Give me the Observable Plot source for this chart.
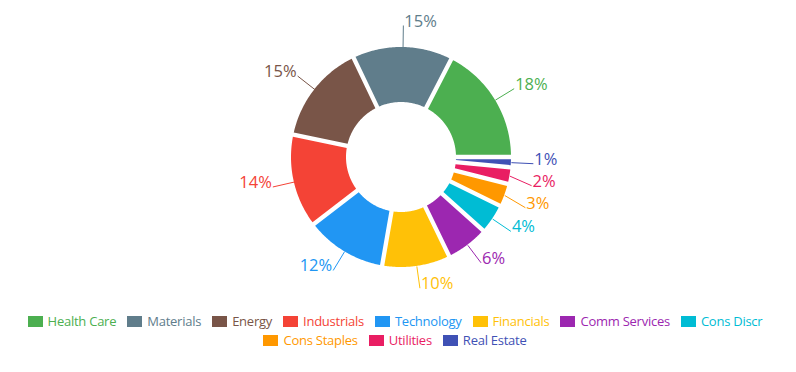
<!DOCTYPE html>
<html>
<head>
<meta charset="utf-8">
<script src="https://cdn.jsdelivr.net/npm/d3@7"></script>
<script src="https://cdn.jsdelivr.net/npm/@observablehq/plot@0.6"></script>
<style>
  html, body { margin: 0; padding: 0; background: #fff; }
  body { width: 796px; height: 372px; overflow: hidden; font-family: "Open Sans", sans-serif; }
  #legend { display: flex; flex-wrap: wrap; justify-content: center; column-gap: 11px; row-gap: 0; padding: 2px 6px 0 0; font-size: 13px; letter-spacing: -0.25px; }
  .item { display: flex; align-items: center; height: 19px; line-height: 19px; white-space: nowrap; }
  .sw { width: 15px; height: 11px; margin-right: 5px; display: inline-block; }
</style>
</head>
<body>
<div id="chart"></div>
<div id="legend"></div>
<script>
const categories = ["Health Care","Materials","Energy","Industrials","Technology","Financials","Comm Services","Cons Discr","Cons Staples","Utilities","Real Estate"];
const values = [18, 15, 15, 14, 12, 10, 6, 4, 3, 2, 1];
const colors = ["#4caf50","#607d8b","#795548","#f44336","#2196f3","#ffc107","#9c27b0","#00bcd4","#ff9800","#e91e63","#3f51b5"];
const labelText = values.map(v => v + "%");

// layout constants
const W = 796, H = 310, CX = 401, CY = 157;
const R = 110, r = 55, padDeg = 2, lineLen = 22, minLabelGap = 22;

const n = values.length, total = d3.sum(values);
const pad = padDeg * Math.PI / 180;
const k = (2 * Math.PI - n * pad) / total;
const rp = Math.hypot(R, r);
const dO = Math.asin(rp * Math.sin(pad / 2) / R);
const dI = Math.asin(rp * Math.sin(pad / 2) / r);

const areaRows = [], linkRows = [], textRows = [];
let a = Math.PI / 2; // start at 3 o'clock, go counter-clockwise
categories.forEach((cat, i) => {
  const a1 = a, a0 = a - values[i] * k - pad;
  a = a0;
  const o0 = a0 + dO, o1 = a1 - dO;
  let i0 = a0 + dI, i1 = a1 - dI;
  if (i1 < i0) { const m = (i0 + i1) / 2; i0 = i1 = m; }
  const steps = 60;
  for (let s = 0; s <= steps; s++) {
    const t = s / steps;
    const ao = o0 + t * (o1 - o0), ai = i0 + t * (i1 - i0);
    areaRows.push({cat, x1: r * Math.sin(ai), y1: -r * Math.cos(ai), x2: R * Math.sin(ao), y2: -R * Math.cos(ao)});
  }
  const m = (a0 + a1) / 2;
  const sx = Math.sin(m), sy = -Math.cos(m);
  textRows.push({cat, label: labelText[i], sx: R * sx, sy: R * sy, x: (R + lineLen) * sx, y: (R + lineLen) * sy, right: sx >= 0});
});
// simple overlap avoidance on each side: push labels down
for (const side of [true, false]) {
  const rows = textRows.filter(d => d.right === side).sort((p, q) => p.y - q.y);
  for (let j = 1; j < rows.length; j++) rows[j].y = Math.max(rows[j].y, rows[j - 1].y + minLabelGap);
}
textRows.forEach(d => linkRows.push({cat: d.cat, x1: d.sx, y1: d.sy, x2: d.x, y2: d.y}));

const chart = Plot.plot({
  width: W, height: H, margin: 0,
  style: {fontFamily: "'Open Sans', sans-serif", background: "white"},
  x: {domain: [-CX, W - CX], range: [0, W], axis: null},
  y: {domain: [-CY, H - CY], range: [0, H], axis: null},
  color: {type: "ordinal", domain: categories, range: colors},
  marks: [
    Plot.area(areaRows, {x1: "x1", y1: "y1", x2: "x2", y2: "y2", z: "cat", fill: "cat", curve: "linear"}),
    Plot.link(linkRows, {x1: "x1", y1: "y1", x2: "x2", y2: "y2", stroke: "cat", strokeWidth: 1}),
    Plot.text(textRows.filter(d => d.right), {x: "x", y: "y", text: "label", fill: "cat", textAnchor: "start", lineAnchor: "bottom", dx: 1, dy: 1, fontSize: 16.5}),
    Plot.text(textRows.filter(d => !d.right), {x: "x", y: "y", text: "label", fill: "cat", textAnchor: "end", lineAnchor: "bottom", dx: -1, dy: 1, fontSize: 16.5})
  ]
});
document.getElementById("chart").appendChild(chart);

const legend = d3.select("#legend");
categories.forEach((c, i) => {
  const it = legend.append("div").attr("class", "item").style("color", colors[i]);
  it.append("span").attr("class", "sw").style("background", colors[i]);
  it.append("span").text(c);
});
</script>
</body>
</html>
